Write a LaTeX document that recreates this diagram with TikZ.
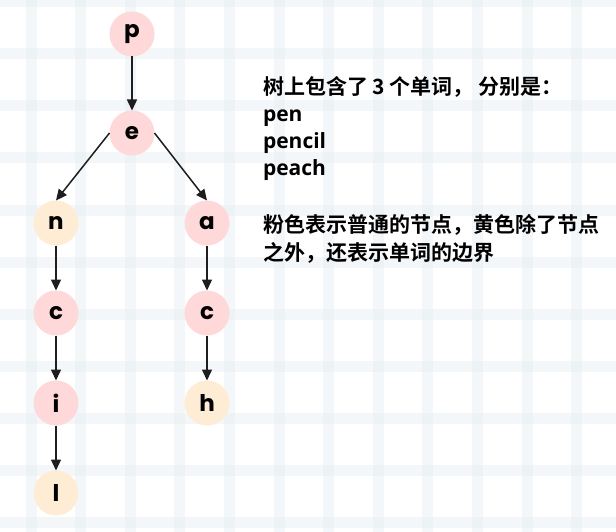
\documentclass[tikz,border=0pt]{standalone}
\usepackage{fontspec}
\usetikzlibrary{arrows.meta}
\newfontfamily\cjkfont{Noto Sans CJK SC}[BoldFont={Noto Sans CJK SC Bold}]
\newfontfamily\latinfont{Open Sans}
\newfontfamily\letterfont{Poppins}
\definecolor{pinkfill}{RGB}{255,217,217}
\definecolor{yellowfill}{RGB}{255,236,212}
\definecolor{gridcol}{RGB}{225,234,240}
\definecolor{arrowcol}{RGB}{30,30,30}
\tikzset{
  trienode/.style={circle, minimum size=45pt, inner sep=0pt, outer sep=0pt,
    font=\letterfont\bfseries\fontsize{23}{23}\selectfont},
  pinknode/.style={trienode, fill=pinkfill},
  yellownode/.style={trienode, fill=yellowfill},
  edge/.style={draw=arrowcol, line width=1.5pt,
    -{Triangle[length=11pt,width=10pt]}},
  gridline/.style={draw=gridcol, line width=11pt, opacity=0.35},
  note/.style={anchor=base west, inner sep=0pt, outer sep=0pt,
    font=\cjkfont\bfseries\fontsize{21}{21}\selectfont},
  wordnote/.style={anchor=base west, inner sep=0pt, outer sep=0pt,
    font=\latinfont\bfseries\fontsize{21}{21}\selectfont}
}
\begin{document}
\begin{tikzpicture}[x=1pt,y=-1pt]
\useasboundingbox (0,0) rectangle (616,532);
\fill[white] (0,0) rectangle (616,532);
\begin{scope}
\clip (0,0) rectangle (616,532);
\foreach \k in {0,...,11} {
  \draw[gridline] ({31+49.6*\k},0) -- ({31+49.6*\k},532);
}
\foreach \k in {0,...,10} {
  \draw[gridline] (0,{2+52*\k}) -- (616,{2+52*\k});
}
\end{scope}

\node[pinknode]   (p)  at (132,34)  {p};
\node[pinknode]   (e)  at (132,133) {e};
\node[yellownode] (n)  at (56,223)  {n};
\node[pinknode]   (a)  at (207,223) {a};
\node[pinknode]   (c1) at (56,313)  {c};
\node[pinknode]   (c2) at (207,313) {c};
\node[pinknode]   (i)  at (56,403)  {i};
\node[yellownode] (h)  at (207,403) {h};
\node[yellownode] (l)  at (56,493)  {l};

\draw[edge] (p.south) -- (e.north);
\draw[edge] (e.west) -- (n.north);
\draw[edge] (e.east) -- (a.north);
\draw[edge] (n.south) -- (c1.north);
\draw[edge] (c1.south) -- (i.north);
\draw[edge] (i.south) -- (l.north);
\draw[edge] (a.south) -- (c2.north);
\draw[edge] (c2.south) -- (h.north);

\node[note] (t1) at (263,94.5) {树上包含了 3 个单词， 分别是：};
\node[wordnote] (t2) at (263,121.5) {pen};
\node[wordnote] (t3) at (263,148.5) {pencil};
\node[wordnote] (t4) at (263,175.5) {peach};
\node[note] (t5) at (263,233) {粉色表示普通的节点，黄色除了节点};
\node[note] (t6) at (263,260) {之外，还表示单词的边界};
\end{tikzpicture}
\end{document}
